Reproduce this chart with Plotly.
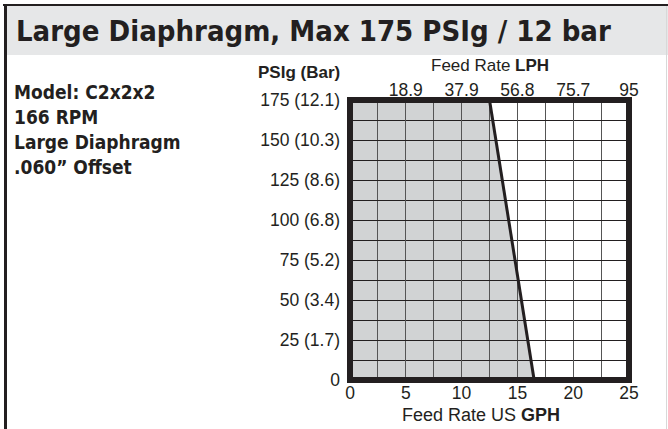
import plotly.graph_objects as go

# ---- data ----
title_text = "Large Diaphragm, Max 175 PSIg / 12 bar"
info_lines = ["Model: C2x2x2", "166 RPM", "Large Diaphragm", ".060\u201d Offset"]

gph_ticks = [0, 5, 10, 15, 20, 25]
lph_tickvals = [5, 10, 15, 20, 25]
lph_labels = ["18.9", "37.9", "56.8", "75.7", "95"]

psi_ticks = [0, 25, 50, 75, 100, 125, 150, 175]
psi_labels = ["0", "25 (1.7)", "50 (3.4)", "75 (5.2)", "100 (6.8)",
              "125 (8.6)", "150 (10.3)", "175 (12.1)"]

# max-pressure / feed-rate boundary (GPH vs PSIg)
curve_gph = [12.5, 16.5]
curve_psi = [175, 0]

gph_max = 25
psi_max = 175

DARK = "#231f20"
FILL = "#d1d3d4"
BAND = "#e6e7e8"
NARROW = "DejaVu Sans Condensed, Liberation Sans Narrow, sans-serif"
SANS = "Liberation Sans, Arial, Helvetica, sans-serif"

W, H = 668, 429
L, R, T, B = 350, 39, 100, 49
pw, ph = W - L - R, H - T - B


def px_x(x):
    return (x - L) / pw


def px_y(y):
    return (H - B - y) / ph


fig = go.Figure()

# shaded operating region (below grid)
poly_x = [0] + [0] + curve_gph + [0]
poly_y = [0] + [psi_max] + curve_psi + [0]
path = "M " + " L ".join(f"{x},{y}" for x, y in zip(poly_x, poly_y)) + " Z"

fig.add_trace(go.Scatter(x=curve_gph, y=curve_psi, mode="lines",
                         line=dict(color=DARK, width=3), hoverinfo="skip",
                         showlegend=False))
# invisible trace for top axis
fig.add_trace(go.Scatter(x=[0, gph_max], y=[0, 0], xaxis="x2", mode="markers",
                         marker=dict(opacity=0), hoverinfo="skip", showlegend=False))

shapes = [
    dict(type="path", path=path, xref="x", yref="y", fillcolor=FILL,
         line=dict(width=0), layer="below"),
    # title band
    dict(type="rect", xref="paper", yref="paper", x0=px_x(5), x1=px_x(668),
         y0=px_y(55), y1=px_y(6), fillcolor=BAND, line=dict(width=0), layer="below"),
    # top frame line
    dict(type="line", xref="paper", yref="paper", x0=px_x(3), x1=px_x(668),
         y0=px_y(5), y1=px_y(5), line=dict(color=DARK, width=2)),
    # left frame line
    dict(type="line", xref="paper", yref="paper", x0=px_x(5.5), x1=px_x(5.5),
         y0=px_y(4), y1=px_y(429), line=dict(color=DARK, width=3)),
    # right faint line
    dict(type="line", xref="paper", yref="paper", x0=px_x(666.5), x1=px_x(666.5),
         y0=px_y(6), y1=px_y(429), line=dict(color="#d8d8d8", width=1)),
    # thick plot border
    dict(type="rect", xref="x domain", yref="y domain", x0=0, x1=1, y0=0, y1=1,
         line=dict(color=DARK, width=6), layer="above"),
]

annotations = [
    dict(text=f"<b>{title_text}</b>", xref="paper", yref="paper", x=px_x(14),
         y=px_y(31), xanchor="left", yanchor="middle", showarrow=False,
         font=dict(family=NARROW, size=29, color=DARK)),
    dict(text="Feed Rate <b>LPH</b>", xref="paper", yref="paper", x=px_x(490),
         y=px_y(65), xanchor="center", yanchor="middle", showarrow=False,
         font=dict(family=SANS, size=17, color=DARK)),
    dict(text="Feed Rate US <b>GPH</b>", xref="paper", yref="paper", x=px_x(481),
         y=px_y(415), xanchor="center", yanchor="middle", showarrow=False,
         font=dict(family=SANS, size=18, color=DARK)),
    dict(text="<b>PSIg (Bar)</b>", xref="paper", yref="paper", x=px_x(342),
         y=px_y(73), xanchor="right", yanchor="middle", showarrow=False,
         font=dict(family=SANS, size=17, color=DARK)),
]
for i, line in enumerate(info_lines):
    annotations.append(dict(text=f"<b>{line}</b>", xref="paper", yref="paper",
                            x=px_x(12), y=px_y(92 + 25 * i), xanchor="left",
                            yanchor="middle", showarrow=False,
                            font=dict(family=NARROW, size=19, color=DARK)))

fig.update_layout(
    width=W, height=H,
    margin=dict(l=L, r=R, t=T, b=B, pad=0),
    paper_bgcolor="white", plot_bgcolor="white",
    showlegend=False,
    shapes=shapes, annotations=annotations,
    xaxis=dict(range=[0, gph_max], tickvals=gph_ticks, showgrid=True,
               gridcolor="#555555", gridwidth=1,
               showline=False, zeroline=False, ticks="",
               tickfont=dict(family=SANS, size=17.5, color=DARK),
               minor=dict(dtick=2.5, tick0=0, showgrid=True,
                          gridcolor="#555555", gridwidth=1),
               fixedrange=True),
    xaxis2=dict(range=[0, gph_max], overlaying="x", side="top",
                tickvals=lph_tickvals, ticktext=lph_labels, showgrid=False,
                showline=False, zeroline=False, ticks="",
                tickfont=dict(family=SANS, size=17.5, color=DARK)),
    yaxis=dict(range=[0, psi_max], tickvals=psi_ticks, ticktext=psi_labels,
               showgrid=True, gridcolor=DARK, gridwidth=1,
               showline=False, zeroline=False, ticks="",
               tickfont=dict(family=SANS, size=17.5, color=DARK),
               minor=dict(dtick=12.5, tick0=0, showgrid=True,
                          gridcolor=DARK, gridwidth=1),
               ticklabelstandoff=9),
)

fig.write_html("out.html", config={"displayModeBar": False},
               post_script="document.body.style.margin='0';document.body.style.padding='0';")
